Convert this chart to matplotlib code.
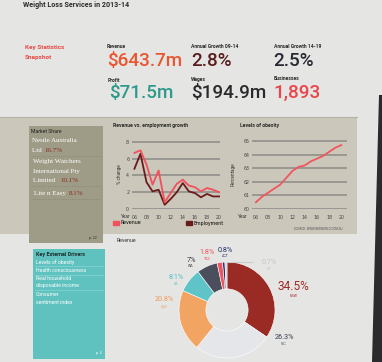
import matplotlib
matplotlib.use("Agg")
import matplotlib.pyplot as plt
from matplotlib.patches import Rectangle, Polygon, Patch

# ---------------- data ----------------
years = [2006, 2007, 2008, 2009, 2010, 2011, 2012, 2013, 2014, 2015, 2016, 2017, 2018, 2019, 2020]
revenue_growth = [6.7, 7.0, 5.3, 2.9, 4.6, 0.8, 1.9, 3.0, 3.5, 2.8, 2.6, 2.1, 2.5, 2.3, 2.0]
employment_growth = [4.8, 6.6, 3.2, 2.1, 2.3, 0.5, 1.2, 2.0, 3.1, 2.1, 1.9, 1.4, 1.8, 1.5, 1.5]
obesity_levels = [60.5, 60.9, 61.2, 61.5, 61.8, 62.3, 62.8, 63.1, 63.2, 63.5, 63.7, 63.9, 64.2, 64.5, 64.7]
year_ticks = [2006, 2008, 2010, 2012, 2014, 2016, 2018, 2020]
year_tick_labels = ['06', '08', '10', '12', '14', '16', '18', '20']

states = ['NSW', 'VIC', 'QLD', 'SA', 'WA', 'TAS', 'ACT', 'NT']
state_share = [34.5, 26.3, 20.8, 8.1, 7.0, 1.8, 0.8, 0.7]
state_labels = ['34.5%', '26.3%', '20.8%', '8.1%', '7%', '1.8%', '0.8%', '0.7%']
state_colors = ['#9a2a24', '#e4e6e9', '#f2a463', '#5ec4c8', '#4b4e5c', '#ec5660', '#1f2f6b', '#cfcfcf']
label_colors = ['#a32a26', '#3a3f55', '#f09a5a', '#4fbfc4', '#3a3d48', '#ec5660', '#1f2f6b', '#c4c4c4']

drivers = ["Levels of obesity", "Health consciousness", "Real household",
           "disposable income", "Consumer", "sentiment index"]

W, H = 382, 362
fig = plt.figure(figsize=(W / 100, H / 100), dpi=100)
fig.patch.set_facecolor('#e5e5e3')

def fx(x):
    return x / W

def fy(y):
    return 1 - y / H

def axes_px(x0, y0, x1, y1):
    return fig.add_axes([fx(x0), fy(y1), (x1 - x0) / W, (y1 - y0) / H])

bg = fig.add_axes([0, 0, 1, 1])
bg.set_xlim(0, W)
bg.set_ylim(H, 0)
bg.axis('off')

SANS = ['Roboto', 'DejaVu Sans']
SERIF = ['Liberation Serif', 'DejaVu Serif']

# middle beige band
bg.add_patch(Rectangle((0, 117), 357, 117, facecolor='#cbc7ba', edgecolor='none'))
bg.plot([0, 357], [117, 117], color='#b5b2a6', lw=0.8)
# right dark screen edge
bg.add_patch(Polygon([(379, 95), (382, 95), (382, 362), (372, 362)], closed=True,
                     facecolor='#2b2b2d', edgecolor='none'))

# ---------------- header ----------------
bg.text(23, 5, "Weight Loss Services in 2013-14", fontsize=5.1, fontweight='bold',
        color='#2a2a2a', family=SANS, va='center', ha='left')
bg.text(25, 48, "Key Statistics", fontsize=4.6, fontweight='bold', color='#e84a44',
        family=SANS, va='center')
bg.text(25, 57.5, "Snapshot", fontsize=4.6, fontweight='bold', color='#e84a44',
        family=SANS, va='center')

stats = [
    (107, 47, "Revenue", 107, 61, "$643.7m", '#ea5532'),
    (191, 47, "Annual Growth 09-14", 191, 61, "2.8%", '#5a1d1f'),
    (274, 46, "Annual Growth 14-19", 273, 61, "2.5%", '#262833'),
    (108, 80, "Profit", 109, 93, "$71.5m", '#2e9a8c'),
    (191, 79, "Wages", 191, 93, "$194.9m", '#2a2a2c'),
    (274, 79, "Businesses", 273, 93, "1,893", '#e9454a'),
]
for lx, ly, lab, vx, vy, val, col in stats:
    bg.text(lx, ly, lab, fontsize=3.6, fontweight='bold', color='#2a2a2a', family=SANS,
            va='center')
    bg.text(vx, vy, val, fontsize=13.6, fontweight='medium', color=col, family=SANS,
            va='center')

# ---------------- market share box ----------------
bg.add_patch(Rectangle((29, 126), 74, 117, facecolor='#9e9c87', edgecolor='none'))
bg.text(31, 131.5, "Market Share", fontsize=3.7, color='#1f1f1f', family=SANS, va='center')
bg.text(32, 140.5, "Nestle Australia", fontsize=5, color='white', family=SERIF, va='center')
bg.text(32, 150.5, "Ltd ", fontsize=5, color='white', family=SERIF, va='center')
bg.text(44, 150.5, "16.7%", fontsize=5, color='#8e2b1c', family=SERIF, va='center')
bg.plot([31, 101], [156, 156], color='#7f7d6c', lw=0.5, ls=':')
bg.text(33, 162, "Weight Watchers", fontsize=5, color='white', family=SERIF, va='center')
bg.text(33, 171.5, "International Pty", fontsize=5, color='white', family=SERIF, va='center')
bg.text(33, 180.5, "Limited ", fontsize=5, color='white', family=SERIF, va='center')
bg.text(60, 180.5, "10.1%", fontsize=5, color='#8e2b1c', family=SERIF, va='center')
bg.plot([31, 101], [186, 186], color='#7f7d6c', lw=0.5, ls=':')
bg.text(34, 193.5, "Lite n Easy ", fontsize=5, color='white', family=SERIF, va='center')
bg.text(69, 193.5, "8.1%", fontsize=5, color='#8e2b1c', family=SERIF, va='center')
bg.plot([31, 101], [199, 199], color='#7f7d6c', lw=0.5, ls=':')
bg.text(97, 238, "p. 22", fontsize=2.5, color='#333333', family=SANS, va='center', ha='right')

# ---------------- key external drivers ----------------
bg.add_patch(Rectangle((33, 249), 72, 110, facecolor='#5fc2bf', edgecolor='none'))
bg.text(36, 254.5, "Key External Drivers", fontsize=3.9, fontweight='bold', color='#1e2b2b',
        family=SANS, va='center')
dy = [262, 270.5, 278, 286, 294.5, 302]
for txt, yy in zip(drivers, dy):
    bg.text(36, yy, txt, fontsize=3.7, color='white', family=SANS, va='center')
for yy in [266, 274.5, 290]:
    bg.plot([35, 103], [yy, yy], color='#8ad8d5', lw=0.5)
bg.text(102, 353, "p. 5", fontsize=2.5, color='white', family=SANS, va='center', ha='right')

# ---------------- line chart 1 ----------------
bg.text(113, 126, "Revenue vs. employment growth", fontsize=3.7, fontweight='bold',
        color='#2a2a2a', family=SANS, va='center')
ax1 = axes_px(132, 140.3, 219.7, 209)
ax1.set_facecolor('none')
ax1.set_xlim(2005.6, 2020.1)
ax1.set_ylim(0, 8.2)
for s in ax1.spines.values():
    s.set_visible(False)
ax1.set_yticks([0, 2, 4, 6, 8])
ax1.set_xticks(year_ticks)
ax1.set_xticklabels(year_tick_labels)
ax1.yaxis.grid(True, color='#8a8a88', lw=1.1)
ax1.set_axisbelow(True)
ax1.tick_params(axis='x', length=0, labelsize=3.4, labelcolor='#444444', pad=4)
ax1.tick_params(axis='y', length=0, labelsize=3.4, labelcolor='#444444', pad=2)
ax1.plot(years, employment_growth, color='#6b1b1c', lw=1.3, zorder=3)
ax1.plot(years, revenue_growth, color='#f0515c', lw=1.3, zorder=4)
bg.text(121, 217, "Year", fontsize=3.4, color='#333333', family=SANS, va='center')
bg.text(119, 174, "% change", fontsize=3.3, color='#333333', family=SANS, va='center',
        ha='center', rotation=90)
fig.legend([Patch(color='#f0515c'), Patch(color='#6b1b1c')], ['Revenue', 'Employment'],
           loc='upper left', bbox_to_anchor=(fx(113), fy(220.5)), ncol=2, frameon=False,
           fontsize=3.4, handlelength=1.2, handleheight=0.9, columnspacing=9.5,
           handletextpad=0.4, borderpad=0, borderaxespad=0)

# ---------------- line chart 2 ----------------
bg.text(240, 126, "Levels of obesity", fontsize=3.7, fontweight='bold',
        color='#2a2a2a', family=SANS, va='center')
ax2 = axes_px(252, 139, 347, 209)
ax2.set_facecolor('none')
ax2.set_xlim(2005.35, 2020.95)
ax2.set_ylim(60, 65.15)
for s in ax2.spines.values():
    s.set_visible(False)
ax2.set_yticks([60, 61, 62, 63, 64, 65])
ax2.set_xticks(year_ticks)
ax2.set_xticklabels(year_tick_labels)
ax2.yaxis.grid(True, color='#8a8a88', lw=1.1)
ax2.set_axisbelow(True)
ax2.tick_params(axis='x', length=0, labelsize=3.4, labelcolor='#444444', pad=4)
ax2.tick_params(axis='y', length=0, labelsize=3.4, labelcolor='#444444', pad=2)
ax2.plot(years, obesity_levels, color='#f0565c', lw=1.3, zorder=3)
bg.text(238, 217, "Year", fontsize=3.4, color='#333333', family=SANS, va='center')
bg.text(233, 174, "Percentage", fontsize=3.3, color='#333333', family=SANS, va='center',
        ha='center', rotation=90)
bg.text(318, 229, "SOURCE: WWW.IBISWORLD.COM.AU", fontsize=2.2, color='#555555',
        family=SANS, va='center', ha='center')

# ---------------- donut ----------------
bg.text(117, 241, "Revenue", fontsize=3.7, color='#333333', family=SANS, va='center')
R = 48.0
cx, cy = 227, 310
half = 100
ax3 = axes_px(cx - half, cy - half, cx + half, cy + half)
ax3.pie(state_share, colors=state_colors, startangle=90, counterclock=False, radius=1.0,
        wedgeprops=dict(width=0.56, edgecolor='white', linewidth=0.4))
ax3.set_xlim(-half / R, half / R)
ax3.set_ylim(-half / R, half / R)
ax3.set_aspect('equal')
ax3.axis('off')

lab_pos = [(1.38, 0.48), (1.19, -0.58), (-1.31, 0.21), (-1.06, 0.67),
           (-0.75, 1.04), (-0.42, 1.20), (-0.04, 1.25), (0.88, 0.98)]
sizes = [8.5, 5.2, 5.2, 5.2, 5.2, 5.2, 5.2, 5.2]
for (px, py), lab, st, col, fs in zip(lab_pos, state_labels, states, label_colors, sizes):
    ax3.text(px, py, lab, fontsize=fs, color=col, family=SANS, ha='center', va='center')
    off = 0.19 if fs > 6 else 0.13
    ax3.text(px, py - off, st, fontsize=2.6, color=col, family=SANS, ha='center', va='center')
ax3.plot([0.03, 0.55], [1.0, 1.0], color='#cccccc', lw=0.8)

fig.savefig('out.png', dpi=100, facecolor=fig.get_facecolor())
